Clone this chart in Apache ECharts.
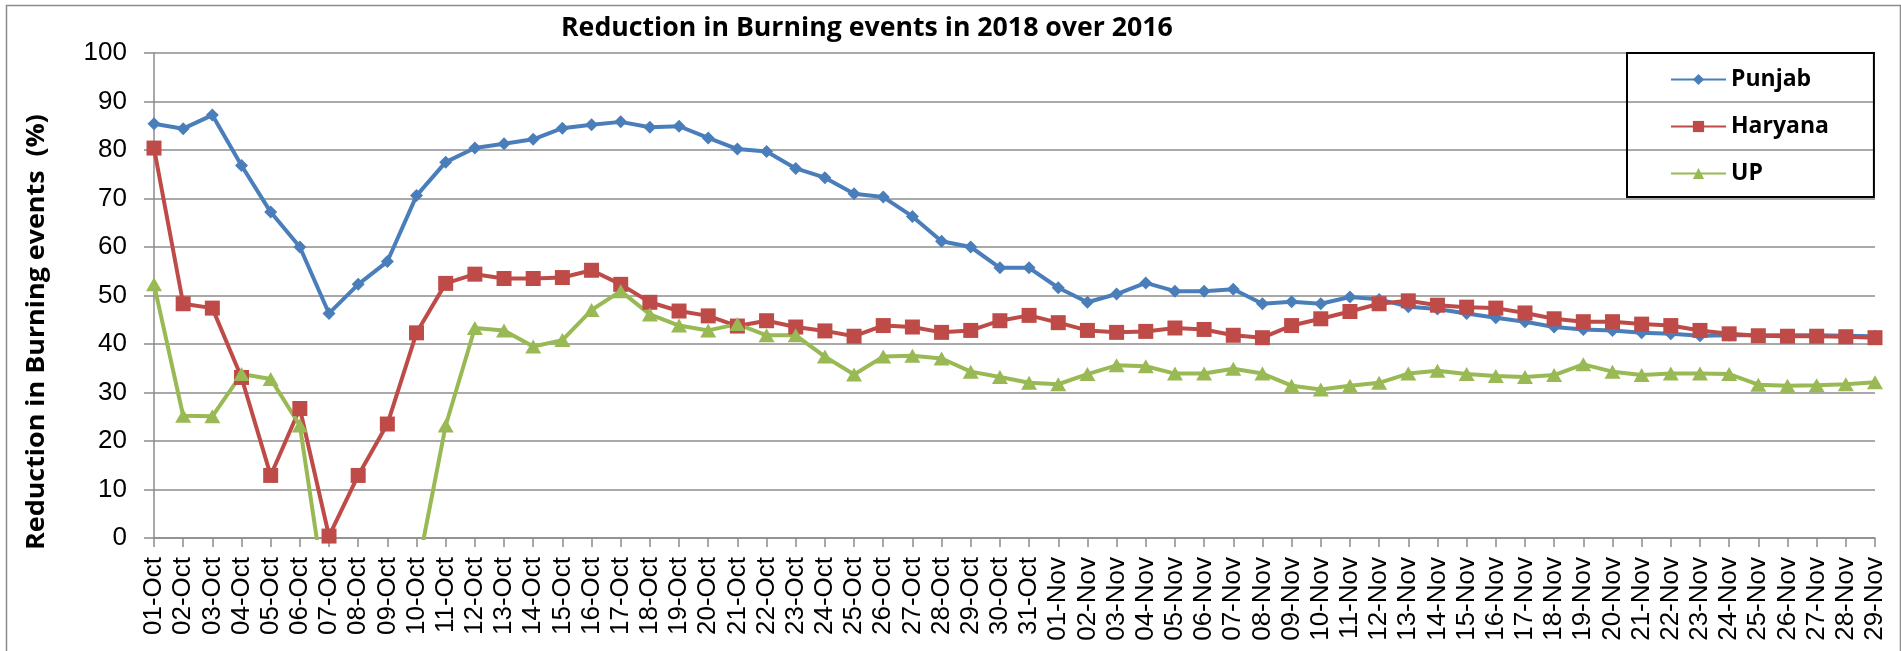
<!DOCTYPE html>
<html>
<head>
<meta charset="utf-8">
<script src="https://cdn.jsdelivr.net/npm/echarts@6/dist/echarts.min.js"></script>
<style>
html,body{margin:0;padding:0;background:#fff;}
#chart{width:1901px;height:651px;}
</style>
</head>
<body>
<div id="chart"></div>
<script>
const categories = [
 "01-Oct","02-Oct","03-Oct","04-Oct","05-Oct","06-Oct","07-Oct","08-Oct","09-Oct","10-Oct",
 "11-Oct","12-Oct","13-Oct","14-Oct","15-Oct","16-Oct","17-Oct","18-Oct","19-Oct","20-Oct",
 "21-Oct","22-Oct","23-Oct","24-Oct","25-Oct","26-Oct","27-Oct","28-Oct","29-Oct","30-Oct",
 "31-Oct","01-Nov","02-Nov","03-Nov","04-Nov","05-Nov","06-Nov","07-Nov","08-Nov","09-Nov",
 "10-Nov","11-Nov","12-Nov","13-Nov","14-Nov","15-Nov","16-Nov","17-Nov","18-Nov","19-Nov",
 "20-Nov","21-Nov","22-Nov","23-Nov","24-Nov","25-Nov","26-Nov","27-Nov","28-Nov","29-Nov"
];
const punjab = [
 85.4,84.4,87.2,76.8,67.2,60.0,46.3,52.3,57.0,70.6,
 77.5,80.4,81.3,82.2,84.5,85.2,85.8,84.7,84.9,82.5,
 80.2,79.7,76.2,74.3,71.0,70.3,66.3,61.2,60.0,55.7,
 55.7,51.6,48.6,50.3,52.6,50.9,50.9,51.3,48.3,48.7,
 48.3,49.7,49.2,47.7,47.2,46.3,45.4,44.6,43.5,43.0,
 42.8,42.3,42.1,41.7,41.8,41.8,41.8,41.8,41.7,41.6
];
const haryana = [
 80.4,48.3,47.4,33.1,12.9,26.7,0.4,12.9,23.5,42.3,
 52.5,54.4,53.5,53.5,53.7,55.2,52.3,48.6,46.8,45.8,
 43.7,44.8,43.5,42.7,41.6,43.8,43.5,42.4,42.8,44.8,
 45.9,44.4,42.8,42.4,42.6,43.3,43.0,41.8,41.3,43.8,
 45.2,46.7,48.3,48.9,48.0,47.6,47.4,46.4,45.2,44.6,
 44.6,44.1,43.8,42.8,42.1,41.7,41.6,41.6,41.5,41.3
];
const up = [
 52.3,25.2,25.1,33.8,32.8,23.2,-17,-25,-20,-7.7,
 23.2,43.3,42.8,39.5,40.8,47.0,50.9,46.1,43.8,42.8,
 44.1,41.8,41.8,37.4,33.7,37.4,37.6,37.0,34.3,33.2,
 32.0,31.7,33.8,35.6,35.4,33.9,33.9,34.9,33.9,31.4,
 30.6,31.4,32.0,33.9,34.5,33.8,33.4,33.2,33.6,35.8,
 34.3,33.6,33.9,33.9,33.8,31.6,31.4,31.5,31.7,32.1
];
const yTicks = [0,10,20,30,40,50,60,70,80,90,100];
const titleText = 'Reduction in Burning events in 2018 over 2016';
const yTitleText = 'Reduction in Burning events  (%)';

const chart = echarts.init(document.getElementById('chart'), null, {renderer:'canvas'});
const grayLine = '#8c8c8c';
function mkSeries(name, data, color, symbol, size){
  return {
    name, type:'line', data, symbol, symbolSize:size, showAllSymbol:true,
    clip:true, animation:false,
    lineStyle:{color, width:4},
    itemStyle:{color},
    emphasis:{disabled:true}
  };
}
chart.setOption({
  backgroundColor:'#fff',
  animation:false,
  title:{
    text:titleText,
    left:556, top:10,
    textStyle:{fontFamily:'Open Sans', fontWeight:'bold', fontSize:26.7, color:'#000'}
  },
  legend:{
    orient:'vertical', left:1627, top:53,
    borderColor:'#000', borderWidth:2,
    padding:[15,45,12,43],
    itemGap:24, itemWidth:55, itemHeight:14,
    textStyle:{fontFamily:'Open Sans', fontWeight:'bold', fontSize:23, color:'#000', lineHeight:22},
    data:['Punjab','Haryana','UP']
  },
  grid:{left:154, right:26, top:53, bottom:113, containLabel:false},
  xAxis:{
    type:'category', data:categories, boundaryGap:false,
    axisLine:{lineStyle:{color:grayLine, width:1.5}},
    axisTick:{show:true, interval:0, length:9, lineStyle:{color:grayLine, width:1.5}},
    axisLabel:{interval:0, rotate:90, margin:19, fontFamily:'Liberation Sans', fontSize:26, color:'#000'}
  },
  yAxis:{
    type:'value', min:0, max:100, interval:10,
    axisLine:{show:true, lineStyle:{color:grayLine, width:1.5}},
    axisTick:{show:true, length:10, inside:false, lineStyle:{color:grayLine, width:1.5}},
    axisLabel:{margin:27, fontFamily:'Liberation Sans', fontSize:26, color:'#000',
      formatter:function(v){ return yTicks.indexOf(v) >= 0 ? String(v) : ''; }},
    splitLine:{show:true, lineStyle:{color:grayLine, width:1.5}}
  },
  graphic:[{
    type:'rect', left:4, top:3, silent:true,
    shape:{x:0, y:0, width:1894, height:660},
    style:{fill:'none', stroke:'#8c8c8c', lineWidth:1.5}
  },{
    type:'text', x:37, y:332, rotation:Math.PI/2, scaleX:1.075, silent:true,
    style:{text:yTitleText, fontFamily:'Open Sans', fontWeight:'bold', fontSize:25,
      fill:'#000', align:'center', verticalAlign:'middle'}
  }],
  series:[
    mkSeries('Punjab', punjab, '#4a7ebb', 'diamond', 13),
    mkSeries('Haryana', haryana, '#be4b48', 'rect', 15),
    mkSeries('UP', up, '#98b954', 'triangle', [16,14])
  ]
});
</script>
</body>
</html>
